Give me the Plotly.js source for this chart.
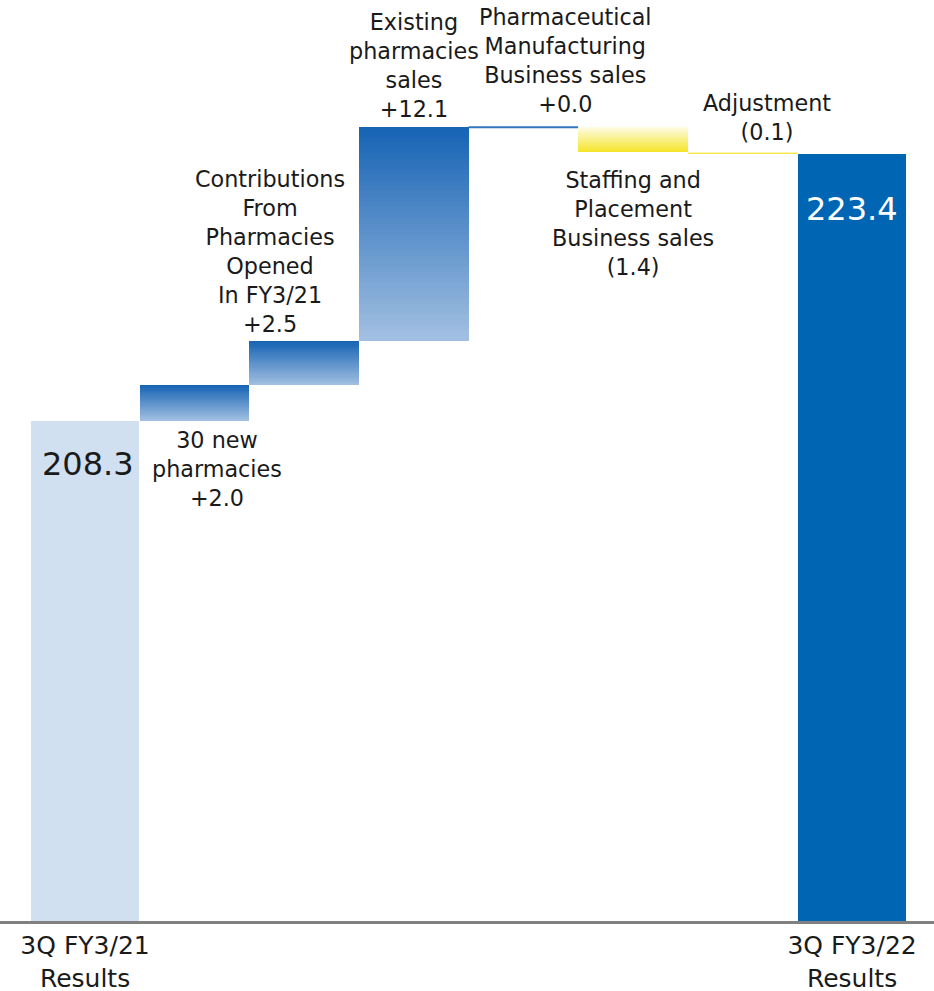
<!DOCTYPE html>
<html>
<head>
<meta charset="utf-8">
<script src="https://cdn.plot.ly/plotly-3.0.1.min.js"></script>
<style>html,body{margin:0;padding:0;background:#fff;}#chart{width:934px;height:991px;}</style>
</head>
<body>
<div id="chart"></div>
<script>
// ---- data ----
const categories = ["start", "new", "contrib", "existing", "pharma", "staffing", "adjust", "end"];
const tickLabels = ["3Q FY3/21<br>Results", "", "", "", "", "", "", "3Q FY3/22<br>Results"];
const startValue = 208.3;
const endValue = 223.4;
const deltas = [2.0, 2.5, 12.1, 0.0, -1.4, -0.1];
const deltaLabels = [
  "30 new<br>pharmacies<br>+2.0",
  "Contributions<br>From<br>Pharmacies<br>Opened<br>In FY3/21<br>+2.5",
  "Existing<br>pharmacies<br>sales<br>+12.1",
  "Pharmaceutical<br>Manufacturing<br>Business sales<br>+0.0",
  "Staffing and<br>Placement<br>Business sales<br>(1.4)",
  "Adjustment<br>(0.1)"
];
const deltaPalette = ["blue", "blue", "blue", "blue", "yellow", "yellow"];

// ---- styles ----
const FONT = "DejaVu Sans, Verdana, sans-serif";
const gradients = {
  blue: {top: [22, 99, 180], bottom: [163, 192, 226]},
  yellow: {top: [253, 251, 228], bottom: [245, 229, 40]}
};
function mix(a, b, t) {
  return "rgb(" + a.map((v, i) => Math.round(v + (b[i] - v) * t)).join(",") + ")";
}

// cumulative levels
const lows = [], highs = [];
let level = startValue;
deltas.forEach(d => {
  const next = level + d;
  lows.push(Math.min(level, next));
  highs.push(Math.max(level, next));
  level = next;
});

const AXIS_MIN = 180;
const traces = [];
// totals
traces.push({
  type: "bar", x: [0], y: [startValue - AXIS_MIN], base: [AXIS_MIN], width: 0.985,
  marker: {color: "#d0e0f0", line: {width: 0}}, hoverinfo: "skip"
});
traces.push({
  type: "bar", x: [7], y: [endValue - AXIS_MIN], base: [AXIS_MIN], width: 0.985,
  marker: {color: "#0066b3", line: {width: 0}}, hoverinfo: "skip"
});

// gradient slices for delta bars (each slice extends to the top, drawn bottom-up)
const N = 40;
const gx = [], gidx = [];
deltas.forEach((d, i) => { if (d !== 0) { gx.push(i + 1); gidx.push(i); } });
for (let k = 0; k < N; k++) {
  const bases = [], ys = [], cols = [];
  gidx.forEach(i => {
    const h = highs[i] - lows[i];
    const b = lows[i] + h * k / N;
    bases.push(b);
    ys.push(highs[i] - b);
    const g = gradients[deltaPalette[i]];
    cols.push(mix(g.bottom, g.top, (k + 0.5) / N));
  });
  traces.push({
    type: "bar", x: gx, y: ys, base: bases, width: 1.0,
    marker: {color: cols, line: {width: 0}}, hoverinfo: "skip"
  });
}
// zero-change bar drawn as a line at its level
deltas.forEach((d, i) => {
  if (d === 0) {
    const g = gradients[deltaPalette[i]];
    traces.push({
      type: "scatter", mode: "lines", x: [i + 1 - 0.5, i + 1 + 0.5], y: [highs[i], highs[i]],
      line: {color: mix(g.bottom, g.top, 0.8), width: 2}, hoverinfo: "skip"
    });
  }
});

const annotations = [];
const lblFont = {family: FONT, size: 22.3, color: "#1a1a1a"};
// placement: [above?, xshift, yshift]
const placement = [[false, 22, -4], [true, -34, 2], [true, 0, 3], [true, 42, 8], [false, 0, -13], [true, 25, 5]];
deltas.forEach((d, i) => {
  const above = placement[i][0];
  annotations.push({
    x: i + 1, y: above ? highs[i] : lows[i], xref: "x", yref: "y",
    text: deltaLabels[i], showarrow: false, font: lblFont, align: "center",
    xanchor: "center", yanchor: above ? "bottom" : "top",
    xshift: placement[i][1], yshift: placement[i][2]
  });
});
annotations.push({
  x: 0, y: startValue, xref: "x", yref: "y", text: startValue.toFixed(1), showarrow: false,
  font: {family: FONT, size: 32, color: "#1a1a1a"}, xanchor: "center", yanchor: "top", xshift: 3, yshift: -22
});
annotations.push({
  x: 7, y: endValue, xref: "x", yref: "y", text: endValue.toFixed(1), showarrow: false,
  font: {family: FONT, size: 32, color: "#ffffff"}, xanchor: "center", yanchor: "top", xshift: 0, yshift: -34
});

const layout = {
  width: 934, height: 991,
  margin: {l: 0, r: 0, t: 0, b: 70},
  paper_bgcolor: "#ffffff", plot_bgcolor: "#ffffff",
  showlegend: false, barmode: "overlay", bargap: 0,
  font: {family: FONT, color: "#1a1a1a"},
  xaxis: {
    range: [-0.776, 7.748], tickvals: categories.map((c, i) => i), ticktext: tickLabels,
    showgrid: false, zeroline: false, showline: true, linecolor: "#808080", linewidth: 3,
    ticks: "", tickfont: {family: FONT, size: 25, color: "#1a1a1a"}, fixedrange: true
  },
  yaxis: {range: [AXIS_MIN, 232.1], visible: false, showgrid: false, zeroline: false, fixedrange: true},
  annotations: annotations
};
Plotly.newPlot("chart", traces, layout, {staticPlot: true, displayModeBar: false});
</script>
</body>
</html>
